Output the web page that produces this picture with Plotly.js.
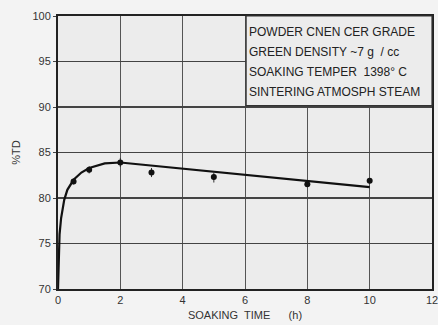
<!DOCTYPE html>
<html>
<head>
<meta charset="utf-8">
<script src="https://cdn.plot.ly/plotly-3.0.1.min.js"></script>
<style>html,body{margin:0;padding:0;background:#f3f3f3;}#chart{width:438px;height:325px;}</style>
</head>
<body>
<div id="chart"></div>
<script>
// Measured points (soaking time h, %TD)
var pointX = [0.5, 1, 2, 3, 5, 8, 10];
var pointY = [81.8, 83.1, 83.9, 82.8, 82.3, 81.5, 81.9];
var pointErr = [0.3, 0.4, 0.5, 0.5, 0.6, 0.2, 0.3];
// Fitted curve
var curveX = [0, 0.02, 0.05, 0.1, 0.2, 0.3, 0.5, 0.75, 1, 1.5, 2, 10];
var curveY = [70, 73.5, 76.0, 77.8, 79.8, 80.9, 82.0, 82.8, 83.3, 83.8, 83.9, 81.2];
var infoLines = ["POWDER CNEN CER GRADE", "GREEN DENSITY ~7 g  / cc", "SOAKING TEMPER  1398° C", "SINTERING ATMOSPH STEAM"];

var traces = [
  {x: curveX, y: curveY, mode: 'lines', line: {color: '#111', width: 2.2}, hoverinfo: 'skip'},
  {x: pointX, y: pointY, mode: 'markers', marker: {color: '#111', size: 6},
   error_y: {type: 'data', array: pointErr, color: '#333', thickness: 1, width: 0}}
];

var annotations = infoLines.map(function(t, i) {
  return {xref: 'paper', yref: 'paper', x: 0.505, y: 0.94 - i * 0.073, xanchor: 'left', yanchor: 'middle',
          text: t, showarrow: false, font: {family: 'Liberation Sans, Arial', size: 12, color: '#222'}};
});

var layout = {
  width: 438, height: 325,
  margin: {l: 58, r: 6, t: 16, b: 36},
  paper_bgcolor: '#f3f3f3', plot_bgcolor: '#ececec',
  showlegend: false,
  font: {family: 'Liberation Sans, Arial', color: '#333', size: 11},
  xaxis: {range: [0, 12], dtick: 2, showgrid: true, gridcolor: '#555', gridwidth: 1,
          zeroline: false, showline: true, linecolor: '#222', linewidth: 2, mirror: true,
          tickfont: {size: 11, color: '#333'}, ticks: '', ticklabeloverflow: 'allow',
          title: {text: 'SOAKING  TIME&nbsp;&nbsp;&nbsp;&nbsp;&nbsp;&nbsp;(h)', font: {size: 11, color: '#333'}, standoff: 6}},
  yaxis: {range: [70, 100], dtick: 5, showgrid: true, gridcolor: '#444', gridwidth: 1.2,
          zeroline: false, showline: true, linecolor: '#222', linewidth: 2, mirror: true,
          tickfont: {size: 11, color: '#333'}, ticks: 'outside', ticklen: 3, tickcolor: '#444',
          title: {text: '%TD', font: {size: 11, color: '#333'}, standoff: 10}},
  shapes: [{type: 'rect', xref: 'paper', yref: 'paper', x0: 0.503, x1: 1, y0: 0.672, y1: 1,
            fillcolor: '#ececec', line: {color: '#333', width: 1.2}}],
  annotations: annotations
};

Plotly.newPlot('chart', traces, layout, {displayModeBar: false, staticPlot: true});
</script>
</body>
</html>
